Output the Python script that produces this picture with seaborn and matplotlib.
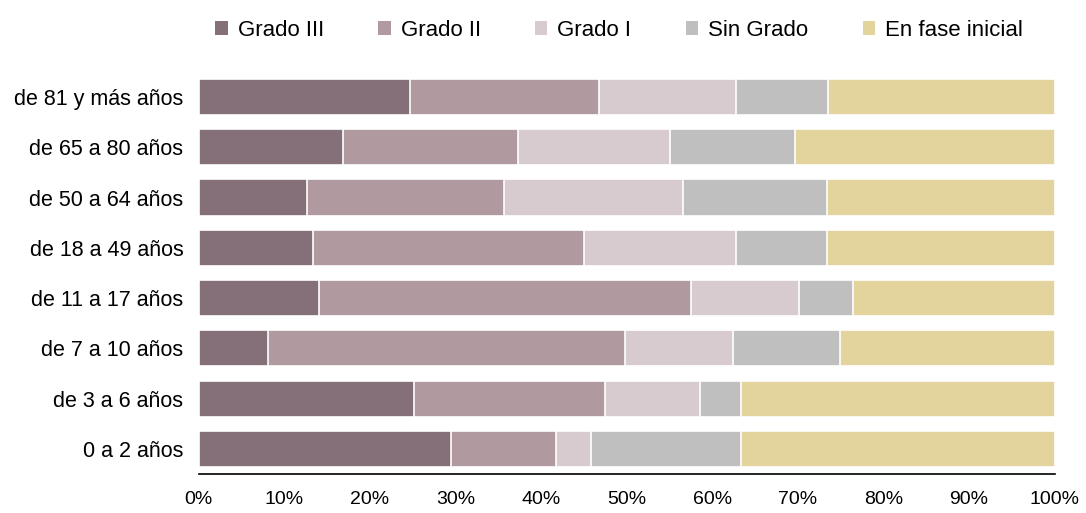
import pandas as pd
import numpy as np
import matplotlib
matplotlib.use('Agg')
import matplotlib.pyplot as plt
import seaborn as sns
from matplotlib.patches import Patch

# DATOS (porcentajes)
grupos = ['de 81 y más años', 'de 65 a 80 años', 'de 50 a 64 años', 'de 18 a 49 años',
          'de 11 a 17 años', 'de 7 a 10 años', 'de 3 a 6 años', '0 a 2 años']
grado_iii = [24.7, 16.9, 12.7, 13.3, 14.1, 8.1, 25.2, 29.5]
grado_ii = [22.1, 20.4, 23.0, 31.7, 43.4, 41.7, 22.3, 12.2]
grado_i = [16.0, 17.8, 20.9, 17.8, 12.6, 12.6, 11.1, 4.1]
sin_grado = [10.7, 14.6, 16.8, 10.6, 6.4, 12.5, 4.8, 17.6]
fase_inicial = [26.5, 30.3, 26.6, 26.6, 23.5, 25.1, 36.6, 36.6]

series = ['Grado III', 'Grado II', 'Grado I', 'Sin Grado', 'En fase inicial']
colores = ['#857079', '#B09AA0', '#D7CBD0', '#BFBFBF', '#E3D49E']

df = pd.DataFrame({'grupo': grupos, 'Grado III': grado_iii, 'Grado II': grado_ii,
                   'Grado I': grado_i, 'Sin Grado': sin_grado, 'En fase inicial': fase_inicial})

# acumulados para apilar
acum = df[series].cumsum(axis=1)

sns.set_style('white')
plt.rcParams['font.family'] = ['Liberation Sans', 'DejaVu Sans']
plt.rcParams['text.color'] = 'black'
plt.rcParams['xtick.color'] = 'black'
plt.rcParams['ytick.color'] = 'black'

fig = plt.figure(figsize=(10.86, 5.13), dpi=100)
ax = fig.add_axes([0.183, 0.076, 0.788, 0.784])

# dibujar de la serie final hacia atrás
for serie, color in reversed(list(zip(series, colores))):
    sns.barplot(x=acum[serie], y=df['grupo'], orient='h', color=color, saturation=1,
                width=0.72, edgecolor='white', linewidth=1.2, ax=ax)

ax.set_xlim(0, 100)
ax.set_xticks(np.arange(0, 101, 10))
ax.set_xticklabels([f'{v}%' for v in range(0, 101, 10)], fontsize=14)
ax.tick_params(axis='x', direction='out', length=5, width=1.2, color='black', pad=7)
ax.tick_params(axis='y', length=0, labelsize=15.5, pad=11)
ax.set_xlabel('')
ax.set_ylabel('')

ax.spines['top'].set_visible(False)
ax.spines['right'].set_visible(False)
ax.spines['left'].set_visible(False)
ax.spines['bottom'].set_color('black')
ax.spines['bottom'].set_linewidth(1.2)

handles = [Patch(facecolor=c, edgecolor='none') for c in colores]
fig.legend(handles, series, loc='upper center', bbox_to_anchor=(0.570, 1.0), ncol=5,
           frameon=False, fontsize=16, handlelength=0.55, handleheight=0.55,
           handletextpad=0.45, columnspacing=2.45)

plt.savefig('out.png', dpi=100)
